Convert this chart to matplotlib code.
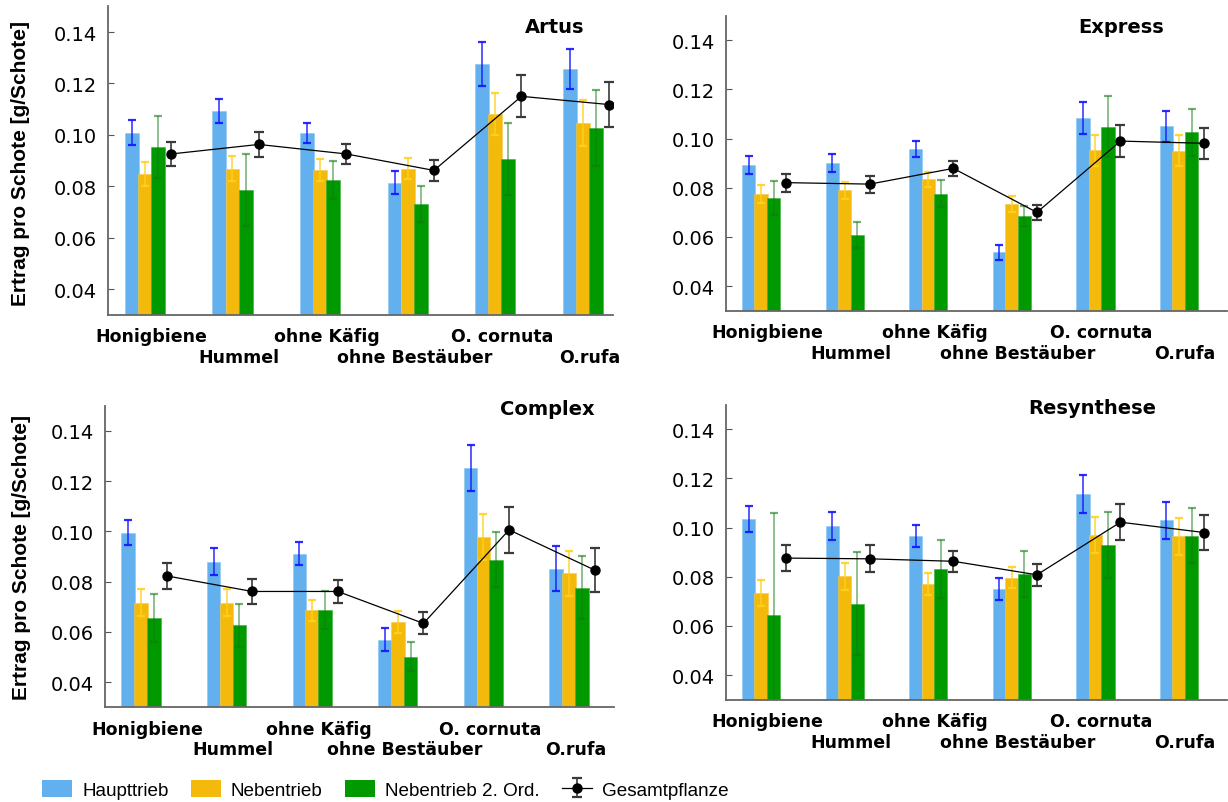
import numpy as np
import matplotlib.pyplot as plt
from matplotlib.patches import Patch

plt.rcParams['font.family'] = ['DejaVu Sans']

groups = ['Honigbiene', 'Hummel', 'ohne Käfig', 'ohne Bestäuber', 'O. cornuta', 'O.rufa']
series = ['Haupttrieb', 'Nebentrieb', 'Nebentrieb 2. Ord.', 'Gesamtpflanze']

# Artus
artus_haupt = [0.1009, 0.1093, 0.1008, 0.0815, 0.1276, 0.1256]
artus_haupt_sd = [0.0048, 0.0048, 0.0040, 0.0043, 0.0084, 0.0079]
artus_neben = [0.0849, 0.0868, 0.0864, 0.0869, 0.1080, 0.1046]
artus_neben_sd = [0.0047, 0.0049, 0.0042, 0.0041, 0.0082, 0.0090]
artus_neben2 = [0.0954, 0.0786, 0.0825, 0.0732, 0.0906, 0.1028]
artus_neben2_sd = [0.0120, 0.0141, 0.0075, 0.0069, 0.0140, 0.0148]
artus_gesamt = [0.0926, 0.0963, 0.0926, 0.0862, 0.1150, 0.1118]
artus_gesamt_sd = [0.0046, 0.0047, 0.0040, 0.0041, 0.0082, 0.0087]

# Express
express_haupt = [0.0893, 0.0901, 0.0958, 0.0537, 0.1083, 0.1051]
express_haupt_sd = [0.0037, 0.0036, 0.0032, 0.0030, 0.0066, 0.0063]
express_neben = [0.0775, 0.0790, 0.0834, 0.0734, 0.0953, 0.0951]
express_neben_sd = [0.0036, 0.0035, 0.0032, 0.0031, 0.0063, 0.0062]
express_neben2 = [0.0759, 0.0608, 0.0775, 0.0686, 0.1048, 0.1025]
express_neben2_sd = [0.0070, 0.0053, 0.0055, 0.0042, 0.0124, 0.0097]
express_gesamt = [0.0821, 0.0815, 0.0879, 0.0700, 0.0990, 0.0981]
express_gesamt_sd = [0.0037, 0.0035, 0.0031, 0.0030, 0.0064, 0.0063]

# Complex
complex_haupt = [0.0994, 0.0880, 0.0912, 0.0569, 0.1252, 0.0851]
complex_haupt_sd = [0.0050, 0.0052, 0.0045, 0.0046, 0.0090, 0.0089]
complex_neben = [0.0717, 0.0717, 0.0686, 0.0640, 0.0978, 0.0833]
complex_neben_sd = [0.0054, 0.0052, 0.0043, 0.0045, 0.0092, 0.0089]
complex_neben2 = [0.0654, 0.0626, 0.0688, 0.0502, 0.0887, 0.0776]
complex_neben2_sd = [0.0095, 0.0084, 0.0075, 0.0059, 0.0109, 0.0125]
complex_gesamt = [0.0823, 0.0761, 0.0761, 0.0634, 0.1006, 0.0846]
complex_gesamt_sd = [0.0051, 0.0050, 0.0045, 0.0044, 0.0090, 0.0088]

# Resynthese
resyn_haupt = [0.1036, 0.1006, 0.0966, 0.0750, 0.1136, 0.1029]
resyn_haupt_sd = [0.0053, 0.0056, 0.0044, 0.0044, 0.0077, 0.0076]
resyn_neben = [0.0735, 0.0802, 0.0769, 0.0797, 0.0970, 0.0964]
resyn_neben_sd = [0.0053, 0.0055, 0.0045, 0.0044, 0.0075, 0.0075]
resyn_neben2 = [0.0644, 0.0691, 0.0831, 0.0811, 0.0930, 0.0966]
resyn_neben2_sd = [0.0417, 0.0210, 0.0117, 0.0093, 0.0133, 0.0112]
resyn_gesamt = [0.0876, 0.0873, 0.0863, 0.0808, 0.1022, 0.0980]
resyn_gesamt_sd = [0.0052, 0.0055, 0.0043, 0.0045, 0.0074, 0.0071]

bar_colors = ['#63b0ef', '#f3ba0c', '#009a00']
err_colors = ['#1414ff', '#ffd21e', '#137a13']
err_alpha = [0.9, 0.9, 0.6]
edge_colors = ['#8cc4f3', '#f5c848', '#3aae3a']

step = 0.15
x = np.arange(len(groups))


def draw_panel(ax, title, bars, sds, gesamt, gesamt_sd, xmax, title_xy):
    for i, (vals, sd) in enumerate(zip(bars, sds)):
        pos = x + (i - 1.5) * step
        ax.bar(pos, vals, width=step * 1.06, color=bar_colors[i], edgecolor=edge_colors[i],
               linewidth=0.4, zorder=2)
        ax.errorbar(pos, vals, yerr=sd, fmt='none', ecolor=err_colors[i], alpha=err_alpha[i],
                    elinewidth=1.1, capsize=3.2, capthick=1.6, zorder=3)
    eb = ax.errorbar(x + 1.5 * step, gesamt, yerr=gesamt_sd, fmt='-o', color='black',
                     lw=0.9, ms=6.5, ecolor='#3a3a3a', elinewidth=1.2, capsize=3.6,
                     capthick=1.6, zorder=4)
    ax.set_ylim(0.03, 0.15)
    ax.set_xlim(-0.5, xmax)
    ax.set_yticks([0.04, 0.06, 0.08, 0.10, 0.12, 0.14])
    ax.set_yticklabels(['0.04', '0.06', '0.08', '0.10', '0.12', '0.14'], fontsize=14)
    # group names alternate between two rows: first row on major ticks, second on minor
    ax.set_xticks(x[::2])
    ax.set_xticklabels(groups[::2], fontsize=12.5, fontweight='bold')
    ax.set_xticks(x[1::2], minor=True)
    ax.set_xticklabels(groups[1::2], minor=True, fontsize=12.5, fontweight='bold')
    ax.tick_params(axis='x', which='major', direction='in', length=3, pad=9, color='#333333')
    ax.tick_params(axis='x', which='minor', direction='in', length=3, pad=23.7, color='#333333')
    ax.tick_params(axis='y', direction='in', length=4, pad=7.5, color='#555555')
    for side in ['top', 'right']:
        ax.spines[side].set_visible(False)
    for side in ['left', 'bottom']:
        ax.spines[side].set_color('#666666')
        ax.spines[side].set_linewidth(1.3)
    ax.text(title_xy[0], title_xy[1], title, transform=ax.transAxes, ha='center',
            va='center', fontsize=14, fontweight='bold')
    return eb


fig = plt.figure(figsize=(12.28, 8.03), dpi=100)

ax1 = fig.add_axes([0.0877, 0.6065, 0.4115, 0.3844])
ax2 = fig.add_axes([0.5909, 0.6118, 0.4083, 0.3674])
ax3 = fig.add_axes([0.0851, 0.1179, 0.4149, 0.3756])
ax4 = fig.add_axes([0.5909, 0.1274, 0.4083, 0.3674])

eb = draw_panel(ax1, 'Artus',
                [artus_haupt, artus_neben, artus_neben2],
                [artus_haupt_sd, artus_neben_sd, artus_neben2_sd],
                artus_gesamt, artus_gesamt_sd, 5.27, (0.885, 0.935))
draw_panel(ax2, 'Express',
           [express_haupt, express_neben, express_neben2],
           [express_haupt_sd, express_neben_sd, express_neben2_sd],
           express_gesamt, express_gesamt_sd, 5.5, (0.789, 0.963))
draw_panel(ax3, 'Complex',
           [complex_haupt, complex_neben, complex_neben2],
           [complex_haupt_sd, complex_neben_sd, complex_neben2_sd],
           complex_gesamt, complex_gesamt_sd, 5.45, (0.870, 0.99))
draw_panel(ax4, 'Resynthese',
           [resyn_haupt, resyn_neben, resyn_neben2],
           [resyn_haupt_sd, resyn_neben_sd, resyn_neben2_sd],
           resyn_gesamt, resyn_gesamt_sd, 5.5, (0.731, 0.99))

ylab = 'Ertrag pro Schote [g/Schote]'
fig.text(20.5 / 1228, 1 - 163 / 803, ylab, rotation=90, ha='center', va='center',
         fontsize=15, fontweight='bold', family='Liberation Sans')
fig.text(21.5 / 1228, 1 - 558 / 803, ylab, rotation=90, ha='center', va='center',
         fontsize=15, fontweight='bold', family='Liberation Sans')

handles = [Patch(facecolor=c) for c in bar_colors] + [eb]
fig.legend(handles, series, loc='center left', bbox_to_anchor=(42 / 1228, 1 - 790.5 / 803),
           ncol=4, frameon=False, borderpad=0, borderaxespad=0,
           prop={'family': 'Liberation Sans', 'size': 13.6},
           handlelength=1.6, handleheight=1.0, handletextpad=0.53, columnspacing=1.17)

fig.savefig('out.png', dpi=100)
